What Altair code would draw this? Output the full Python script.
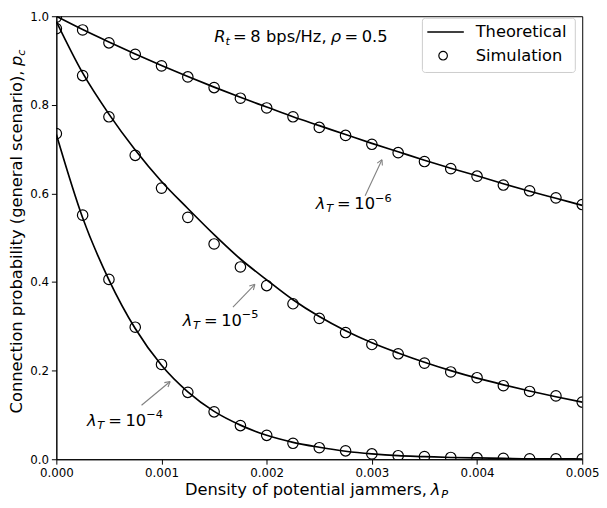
import math
import altair as alt
import pandas as pd

# ---------------- data ----------------
x_vals = [0.0, 0.00025, 0.0005, 0.00075, 0.001, 0.00125, 0.0015, 0.00175, 0.002,
          0.00225, 0.0025, 0.00275, 0.003, 0.00325, 0.0035, 0.00375, 0.004,
          0.00425, 0.0045, 0.00475, 0.005]

series = ["1e-6", "1e-5", "1e-4"]

theory_1e6 = [1.0, 0.970, 0.942, 0.915, 0.889, 0.864, 0.840, 0.817, 0.795, 0.773, 0.753,
              0.733, 0.713, 0.694, 0.675, 0.657, 0.640, 0.622, 0.605, 0.589, 0.573]
theory_1e5 = [0.988, 0.872, 0.779, 0.698, 0.627, 0.566, 0.507, 0.452, 0.405, 0.360, 0.322,
              0.290, 0.263, 0.240, 0.219, 0.200, 0.183, 0.168, 0.154, 0.141, 0.129]
theory_1e4 = [0.733, 0.545, 0.405, 0.295, 0.212, 0.152, 0.108, 0.077, 0.054, 0.038, 0.027,
              0.018, 0.012, 0.008, 0.006, 0.004, 0.003, 0.002, 0.001, 0.001, 0.0005]

sim_1e6 = [0.998, 0.969, 0.940, 0.914, 0.888, 0.863, 0.839, 0.815, 0.793, 0.773, 0.749,
           0.731, 0.711, 0.692, 0.672, 0.656, 0.639, 0.619, 0.606, 0.590, 0.575]
sim_1e5 = [0.972, 0.866, 0.773, 0.686, 0.612, 0.546, 0.486, 0.434, 0.392, 0.351, 0.318,
           0.286, 0.259, 0.238, 0.217, 0.197, 0.184, 0.166, 0.153, 0.143, 0.129]
sim_1e4 = [0.735, 0.551, 0.406, 0.298, 0.214, 0.151, 0.107, 0.076, 0.054, 0.036, 0.026,
           0.019, 0.012, 0.008, 0.006, 0.004, 0.003, 0.002, 0.001, 0.001, 0.001]

x_ticks = [0.0, 0.001, 0.002, 0.003, 0.004, 0.005]
y_ticks = [0.0, 0.2, 0.4, 0.6, 0.8, 1.0]

# annotation labels (lambda_T = 10^k) : anchor in data coords (left, baseline)
label_exp = ["−6", "−5", "−4"]
label_x = [0.002467, 0.001201, 0.000291]
label_y = [0.5638, 0.3018, 0.0749]

# arrows: tail -> head in data coords
arrow_x = [0.002936, 0.001679, 0.000810]
arrow_y = [0.5947, 0.3436, 0.1218]
arrow_x2 = [0.003096, 0.001888, 0.001082]
arrow_y2 = [0.6762, 0.3949, 0.1755]

# ---------------- layout ----------------
W, H = 533, 449
FONT = "DejaVu Sans"
XMAX = 0.005
FS = 16.5      # main text size
SS = 11.5      # sub/superscript size

theory_df = pd.DataFrame({
    "x": x_vals * 3,
    "y": theory_1e6 + theory_1e5 + theory_1e4,
    "series": [s for s in series for _ in x_vals],
})
sim_df = pd.DataFrame({
    "x": x_vals * 3,
    "y": sim_1e6 + sim_1e5 + sim_1e4,
    "series": [s for s in series for _ in x_vals],
})

xscale = alt.Scale(domain=[0, XMAX], nice=False, zero=False)
yscale = alt.Scale(domain=[0, 1], nice=False)

x_axis = alt.Axis(values=x_ticks, format=".3f", labelFontSize=12, labelFont=FONT,
                  tickSize=5, tickColor="black", domainColor="black", labelColor="black",
                  grid=False, title=None, labelPadding=3, labelFlush=False)
y_axis = alt.Axis(values=y_ticks, format=".1f", labelFontSize=12, labelFont=FONT,
                  tickSize=5, tickColor="black", domainColor="black", labelColor="black",
                  grid=False, title=None, labelPadding=3)

lines = alt.Chart(theory_df).mark_line(
    color="black", strokeWidth=1.7, clip=True, interpolate="monotone"
).encode(
    x=alt.X("x:Q", scale=xscale, axis=x_axis),
    y=alt.Y("y:Q", scale=yscale, axis=y_axis),
    detail="series:N",
)

points = alt.Chart(sim_df).mark_point(
    shape="circle", size=112, filled=False, color="black", strokeWidth=1.2,
    clip=True, opacity=1
).encode(
    x=alt.X("x:Q", scale=xscale),
    y=alt.Y("y:Q", scale=yscale),
)

# arrows
ang = [math.degrees(math.atan2((arrow_x2[i] - arrow_x[i]) * W / XMAX,
                                (arrow_y2[i] - arrow_y[i]) * H)) for i in range(3)]
arrow_df = pd.DataFrame({"x": arrow_x, "y": arrow_y, "x2": arrow_x2, "y2": arrow_y2,
                         "angle": ang})
arrow_lines = alt.Chart(arrow_df).mark_rule(color="#808080", strokeWidth=1.1).encode(
    x=alt.X("x:Q", scale=xscale), y=alt.Y("y:Q", scale=yscale),
    x2="x2:Q", y2="y2:Q",
)
arrow_heads = alt.Chart(arrow_df).mark_point(
    shape="M0,0L-0.55,1M0,0L0.55,1", filled=False, color="#808080",
    strokeWidth=1.1, size=110, opacity=1
).encode(
    x=alt.X("x2:Q", scale=xscale), y=alt.Y("y2:Q", scale=yscale),
    angle=alt.Angle("angle:Q", scale=None),
)

layers = [lines, points, arrow_lines, arrow_heads]

# lambda_T labels, composed from pieces
for i in range(3):
    d = pd.DataFrame({"x": [label_x[i]], "y": [label_y[i]]})
    pieces = [("λ", 0, 0, FS, "italic"), ("T", 10.5, 3, SS, "italic"),
              ("=", 21.5, 0, FS, "normal"), ("10", 39, 0, FS, "normal"),
              (label_exp[i], 60, -8, SS, "normal")]
    for txt, dx, dy, fs, st in pieces:
        layers.append(alt.Chart(d).mark_text(
            align="left", baseline="alphabetic", dx=dx, dy=dy, fontSize=fs,
            fontStyle=st, font=FONT, color="black"
        ).encode(x=alt.X("x:Q", scale=xscale), y=alt.Y("y:Q", scale=yscale),
                 text=alt.value(txt)))

dummy = pd.DataFrame({"a": [0]})

def ptext(txt, x, y, fs=FS, st="normal", align="left", angle=0, baseline="alphabetic"):
    kw = dict(align=align, baseline=baseline, fontSize=fs, fontStyle=st, font=FONT,
              color="black")
    if angle:
        kw["angle"] = angle
    return alt.Chart(dummy).mark_text(**kw).encode(
        x=alt.value(x), y=alt.value(y), text=alt.value(txt))

# top annotation: R_t = 8 bps/Hz, rho = 0.5
ty = 26
layers += [
    ptext("R", 160, ty, st="italic"),
    ptext("t", 171.5, ty + 3, fs=SS, st="italic"),
    ptext("=", 179, ty),
    ptext("8", 196.5, ty),
    ptext("bps/Hz,", 212.5, ty),
    ptext("ρ", 278, ty, st="italic"),
    ptext("=", 292, ty),
    ptext("0.5", 309.5, ty),
]

# x axis title
xt = 485
layers += [
    ptext("Density of potential jammers,", 375.5, xt, align="right"),
    ptext("λ", 379.5, xt, st="italic"),
    ptext("P", 390, xt + 3, fs=SS, st="italic"),
]

# y axis title (rotated)
layers += [
    ptext("Connection probability (general scenario),", -35, 55, align="right", angle=270),
    ptext("p", -35, 50.5, st="italic", angle=270),
    ptext("c", -32, 40, fs=SS, st="italic", angle=270),
]

# legend
layers += [
    alt.Chart(dummy).mark_rect(fill="white", fillOpacity=0.8, stroke="#cccccc",
                               strokeWidth=1, cornerRadius=3).encode(
        x=alt.value(371), x2=alt.value(526), y=alt.value(2), y2=alt.value(57)),
    alt.Chart(dummy).mark_rule(color="black", strokeWidth=1.7).encode(
        x=alt.value(376), x2=alt.value(413), y=alt.value(16)),
    alt.Chart(dummy).mark_point(shape="circle", size=75, filled=False, color="black",
                                strokeWidth=1.2, opacity=1).encode(
        x=alt.value(392), y=alt.value(40)),
    ptext("Theoretical", 425, 16, baseline="middle"),
    ptext("Simulation", 425, 40, baseline="middle"),
]

chart = alt.layer(*layers).properties(
    width=W, height=H,
    padding={"left": 49, "top": 5, "right": 17, "bottom": 41},
    autosize=alt.AutoSizeParams(type="none"),
    background="white",
).configure_view(stroke="black", strokeWidth=1)

chart.save("out.html", embed_options={"renderer": "svg", "actions": False})
